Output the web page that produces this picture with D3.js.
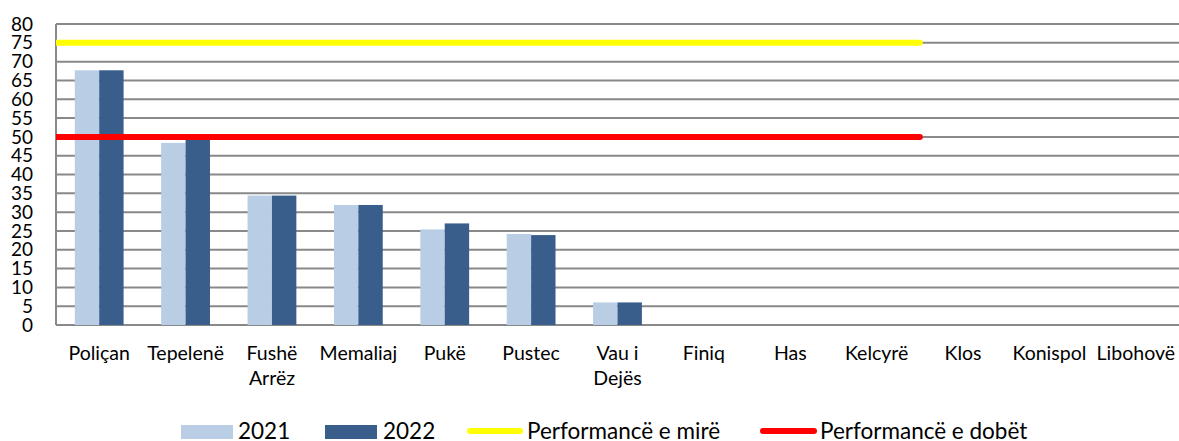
<!DOCTYPE html>
<html lang="en">
<head>
    <meta charset="UTF-8">
    <title>Performanca 2021 - 2022</title>
    <style>
        body {
            margin: 0;
            background-color: #fff;
        }

        svg {
            display: block;
            font-family: Lato, "Open Sans", sans-serif;
        }

        .grid line {
            stroke: #898989;
            stroke-width: 2;
        }

        .tick-label {
            font-size: 19px;
            fill: #000;
        }

        .cat-label {
            font-size: 19.5px;
            fill: #000;
        }

        .legend text {
            font-size: 22.5px;
            fill: #000;
        }
    </style>
</head>
<body>
    <svg id="chart" width="1179" height="441"></svg>

    <script src="https://cdnjs.cloudflare.com/ajax/libs/d3/7.8.5/d3.min.js"></script>
    <script>
        const categories = ['Poliçan', 'Tepelenë', 'Fushë Arrëz', 'Memaliaj', 'Pukë', 'Pustec',
            'Vau i Dejës', 'Finiq', 'Has', 'Kelcyrë', 'Klos', 'Konispol', 'Libohovë'];
        const years = ['2021', '2022'];
        // no values reported for the last six
        const values2021 = [67.7, 48.4, 34.4, 31.9, 25.4, 24.2, 6.0, 0, 0, 0, 0, 0, 0];
        const values2022 = [67.7, 49.5, 34.4, 31.9, 27.0, 23.9, 6.0, 0, 0, 0, 0, 0, 0];
        const yTicks = [0, 5, 10, 15, 20, 25, 30, 35, 40, 45, 50, 55, 60, 65, 70, 75, 80];

        const perfGood = 75;
        const perfBad = 50;
        const lineSpan = ['Poliçan', 'Kelcyrë'];

        const colors = {
            '2021': '#b9cde5',
            '2022': '#3a5e8c',
            good: '#ffff00',
            bad: '#ff0000'
        };

        const svg = d3.select('#chart');
        const plot = { left: 56, right: 1179, top: 24, bottom: 325 };

        let x = d3.scaleBand()
            .domain(categories)
            .range([plot.left, plot.right])
            .padding(0);

        let xYear = d3.scaleBand()
            .domain(years)
            .range([0, x.bandwidth()])
            .paddingInner(0)
            .paddingOuter(0.77);

        let y = d3.scaleLinear()
            .domain([0, 80])
            .range([plot.bottom, plot.top]);

        // gridlines
        svg.append('g')
            .attr('class', 'grid')
            .selectAll('line')
            .data(yTicks)
            .join('line')
            .attr('x1', plot.left)
            .attr('x2', plot.right)
            .attr('y1', d => y(d))
            .attr('y2', d => y(d));

        svg.append('line')
            .attr('x1', plot.left)
            .attr('x2', plot.left)
            .attr('y1', plot.top)
            .attr('y2', plot.bottom)
            .attr('stroke', '#898989')
            .attr('stroke-width', 2);

        // y labels
        svg.append('g')
            .selectAll('text')
            .data(yTicks)
            .join('text')
            .attr('class', 'tick-label')
            .attr('x', 33)
            .attr('y', d => y(d))
            .attr('dy', '0.35em')
            .attr('text-anchor', 'end')
            .text(d => d);

        // bars
        const rows = categories.map((c, i) => ({ cat: c, vals: [values2021[i], values2022[i]] }));

        svg.append('g')
            .selectAll('g')
            .data(rows)
            .join('g')
            .attr('transform', d => `translate(${x(d.cat)},0)`)
            .selectAll('rect')
            .data(d => years.map((yr, j) => ({ year: yr, value: d.vals[j] })))
            .join('rect')
            .attr('x', d => xYear(d.year))
            .attr('width', xYear.bandwidth())
            .attr('y', d => y(d.value))
            .attr('height', d => y(0) - y(d.value))
            .attr('fill', d => colors[d.year]);

        // threshold lines
        svg.append('clipPath')
            .attr('id', 'plot-clip')
            .append('rect')
            .attr('x', plot.left)
            .attr('y', 0)
            .attr('width', plot.right - plot.left)
            .attr('height', plot.bottom + 10);

        const lineX1 = x(lineSpan[0]);
        const lineX2 = x(lineSpan[1]) + x.bandwidth();

        svg.append('g')
            .attr('clip-path', 'url(#plot-clip)')
            .selectAll('line')
            .data([{ v: perfGood, c: colors.good }, { v: perfBad, c: colors.bad }])
            .join('line')
            .attr('x1', lineX1)
            .attr('x2', lineX2)
            .attr('y1', d => y(d.v))
            .attr('y2', d => y(d.v))
            .attr('stroke', d => d.c)
            .attr('stroke-width', 6)
            .attr('stroke-linecap', 'round');

        // category labels, long names wrap at the last space
        const catLabel = svg.append('g')
            .selectAll('text')
            .data(categories)
            .join('text')
            .attr('class', 'cat-label')
            .attr('text-anchor', 'middle')
            .attr('x', d => x(d) + x.bandwidth() / 2)
            .attr('y', 360);

        catLabel.each(function (d) {
            let k = d.lastIndexOf(' ');
            let parts = k > 0 ? [d.slice(0, k), d.slice(k + 1)] : [d];
            d3.select(this).selectAll('tspan')
                .data(parts)
                .join('tspan')
                .attr('x', x(d) + x.bandwidth() / 2)
                .attr('dy', (p, i) => i === 0 ? 0 : 24.5)
                .text(p => p);
        });

        // legend
        const legend = svg.append('g').attr('class', 'legend');
        const legendItems = [
            { label: '2021', type: 'rect', color: colors['2021'], x0: 181, x1: 233, tx: 238 },
            { label: '2022', type: 'rect', color: colors['2022'], x0: 325, x1: 377, tx: 383 },
            { label: 'Performancë e mirë', type: 'line', color: colors.good, x0: 470, x1: 520, tx: 527 },
            { label: 'Performancë e dobët', type: 'line', color: colors.bad, x0: 763, x1: 814, tx: 820 }
        ];

        legendItems.forEach(item => {
            if (item.type === 'rect') {
                legend.append('rect')
                    .attr('x', item.x0)
                    .attr('y', 425)
                    .attr('width', item.x1 - item.x0)
                    .attr('height', 14)
                    .attr('fill', item.color);
            } else {
                legend.append('line')
                    .attr('x1', item.x0)
                    .attr('x2', item.x1)
                    .attr('y1', 431)
                    .attr('y2', 431)
                    .attr('stroke', item.color)
                    .attr('stroke-width', 6)
                    .attr('stroke-linecap', 'round');
            }
            legend.append('text')
                .attr('x', item.tx)
                .attr('y', 439)
                .text(item.label);
        });
    </script>
</body>
</html>
